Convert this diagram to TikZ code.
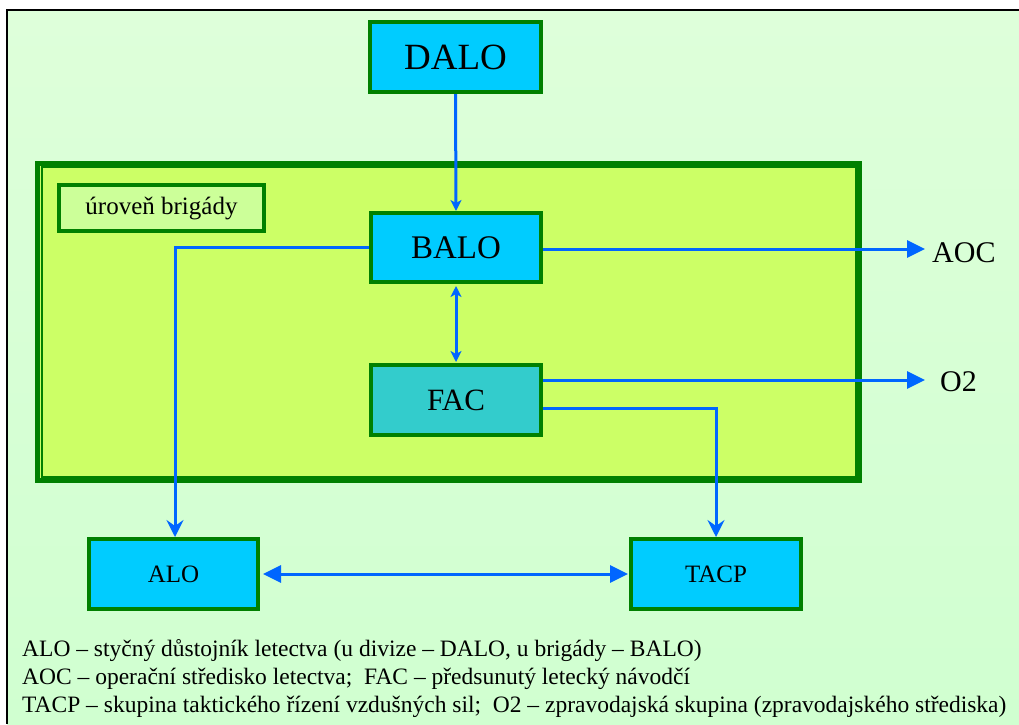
\documentclass[tikz,border=0pt]{standalone}
\usepackage{fontspec}
\setmainfont{Liberation Serif}
\usetikzlibrary{arrows.meta}
\definecolor{bgtop}{RGB}{222,255,218}
\definecolor{bgbot}{RGB}{208,255,208}
\definecolor{dkgreen}{RGB}{0,128,0}
\definecolor{limefill}{RGB}{204,255,102}
\definecolor{labelfill}{RGB}{204,255,153}
\definecolor{boxblue}{RGB}{0,204,255}
\definecolor{boxteal}{RGB}{51,204,204}
\definecolor{arrowblue}{RGB}{0,102,255}
\tikzset{
  unitbox/.style={draw=dkgreen, line width=4pt, fill=boxblue, inner sep=0pt, minimum width=170pt, minimum height=70pt},
  conn/.style={draw=arrowblue, line width=3pt},
  smallhead/.style={-{Stealth[length=11pt,width=11pt,inset=3pt]}},
  smallboth/.style={{Stealth[length=11pt,width=11pt,inset=3pt]}-{Stealth[length=11pt,width=11pt,inset=3pt]}},
  notchhead/.style={-{Stealth[length=17pt,width=17pt,inset=6pt]}},
  trihead/.style={-{Triangle[length=18pt,width=17pt]}},
  triboth/.style={{Triangle[length=18pt,width=17pt]}-{Triangle[length=18pt,width=17pt]}},
  outlabel/.style={inner sep=2pt, anchor=west, font=\fontsize{30}{33}\selectfont},
  legend/.style={inner sep=0pt, anchor=base west, font=\fontsize{23.5}{26}\selectfont},
}
\begin{document}
\begin{tikzpicture}[x=1pt,y=-1pt]
\useasboundingbox (0,0) rectangle (1019,724);
% background frame
\shade[top color=bgtop, bottom color=bgbot] (7,10) rectangle (1019,724);
\draw[black, line width=1.5pt] (1019,10) -- (7,10) -- (7,724);
% brigade level
\node[draw=dkgreen, line width=5pt, fill=limefill, minimum width=822pt, minimum height=317pt, inner sep=0pt] (brig) at (448.5,322) {};
\node[draw=dkgreen, line width=1.5pt, minimum width=814pt, minimum height=310pt, inner sep=0pt] (brigin) at (449,322) {};
\node[draw=dkgreen, line width=4pt, fill=labelfill, minimum width=205pt, minimum height=46pt, inner sep=0pt, font=\fontsize{25}{28}\selectfont] (lvl) at (161.5,208) {úroveň brigády};
% units
\node[unitbox, minimum width=171pt, font=\fontsize{37}{40}\selectfont] (dalo) at (455.5,57) {DALO};
\node[unitbox, minimum height=69pt, font=\fontsize{33}{36}\selectfont] (balo) at (456,247.5) {BALO};
\node[unitbox, fill=boxteal, font=\fontsize{31}{34}\selectfont] (fac) at (456,400) {FAC};
\node[unitbox, minimum width=169pt, font=\fontsize{25}{28}\selectfont] (alo) at (173.5,574) {ALO};
\node[unitbox, font=\fontsize{25}{28}\selectfont] (tacp) at (716,574) {TACP};
\node[outlabel] (aoc) at (930,253) {AOC};
\node[outlabel] (otwo) at (938,382) {O2};
% connectors
\draw[conn, smallhead] (dalo.south) -- (balo.north);
\draw[conn, smallboth, shorten <=2pt, shorten >=1pt] (balo.south) -- (fac.north);
\draw[conn, notchhead] (balo.west) -| ([xshift=1.5pt]alo.north);
\draw[conn, trihead] ([yshift=-1.5pt]balo.east) -- ([yshift=-1.5pt]balo.east -| 925,0);
\draw[conn, trihead] ([yshift=20pt]fac.east) -- ([yshift=20pt]fac.east -| 925,0);
\draw[conn, notchhead] ([yshift=-8pt]fac.east) -| (tacp.north);
\draw[conn, triboth, shorten <=3pt, shorten >=1pt] (alo.east) -- (tacp.west);
% legend
\node[legend] (leg1) at (22,656) {ALO – styčný důstojník letectva (u divize – DALO, u brigády – BALO)};
\node[legend] (leg2) at (22,684) {AOC – operační středisko letectva;\ \ FAC – předsunutý letecký návodčí};
\node[legend] (leg3) at (22,712) {TACP – skupina taktického řízení vzdušných sil;\ \ O2 – zpravodajská skupina (zpravodajského střediska)};
\end{tikzpicture}
\end{document}
